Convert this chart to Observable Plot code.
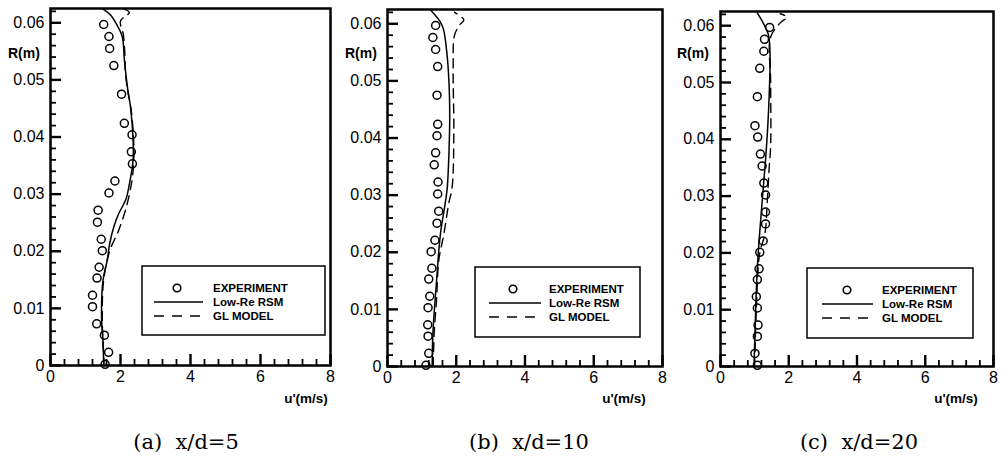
<!DOCTYPE html>
<html><head><meta charset="utf-8">
<script src="https://cdn.jsdelivr.net/npm/d3@7"></script>
<script src="https://cdn.jsdelivr.net/npm/@observablehq/plot@0.6"></script>
<style>
body{margin:0;background:#fff;}
#root{position:relative;width:1003px;height:462px;overflow:hidden;font-family:"Liberation Sans",Arial,sans-serif;}
.panel{position:absolute;top:0;}
#overlay{position:absolute;left:0;top:0;pointer-events:none;}
</style></head><body><div id="root"></div>
<script>
// ---- data ----
const xMajor = [0, 2, 4, 6, 8];
const xMinor = [0.4, 0.8, 1.2, 1.6, 2.4, 2.8, 3.2, 3.6, 4.4, 4.8, 5.2, 5.6, 6.4, 6.8, 7.2, 7.6];
const yMajor = [0, 0.01, 0.02, 0.03, 0.04, 0.05, 0.06];
const yMinor = [0.002,0.004,0.006,0.008,0.012,0.014,0.016,0.018,0.022,0.024,0.026,0.028,0.032,0.034,0.036,0.038,0.042,0.044,0.046,0.048,0.052,0.054,0.056,0.058,0.062];

const expR = [0.0597,0.0576,0.0555,0.0525,0.0475,0.0424,0.0404,0.0374,0.0353,0.0323,0.0302,0.0272,0.0251,0.0221,0.0201,0.0172,0.0153,0.0123,0.0103,0.0073,0.0053,0.0023,0.0002];
const expU_a = [1.52,1.67,1.69,1.81,2.03,2.11,2.33,2.31,2.34,1.84,1.67,1.36,1.34,1.45,1.48,1.39,1.33,1.20,1.20,1.32,1.54,1.66,1.56];
const expU_b = [1.40,1.32,1.40,1.46,1.44,1.46,1.44,1.40,1.36,1.47,1.46,1.49,1.44,1.38,1.27,1.29,1.20,1.23,1.18,1.17,1.18,1.20,1.12];
const expU_c = [1.44,1.29,1.27,1.15,1.08,1.01,1.09,1.17,1.22,1.27,1.32,1.32,1.32,1.25,1.15,1.13,1.08,1.05,1.08,1.10,1.08,1.01,1.08];

const rsmR_a = [0,0.0044,0.0079,0.0149,0.0184,0.0213,0.0243,0.0266,0.029,0.0313,0.036,0.0395,0.045,0.0491,0.0536,0.0576,0.0596,0.0614,0.0625];
const rsmU_a = [1.52,1.50,1.46,1.50,1.62,1.69,1.81,1.95,2.15,2.24,2.36,2.36,2.29,2.19,2.11,2.05,1.90,1.71,1.48];
const glR_a = [0,0.008,0.015,0.0202,0.0237,0.0278,0.0325,0.036,0.040,0.045,0.0482,0.0515,0.055,0.058,0.0603,0.0618,0.0624];
const glU_a = [1.53,1.48,1.52,1.70,1.95,2.17,2.33,2.38,2.37,2.30,2.20,2.14,2.12,2.08,2.00,2.25,2.10];

const rsmR_b = [0,0.0057,0.0144,0.0232,0.029,0.0314,0.0378,0.0436,0.0495,0.0553,0.0597,0.0624];
const rsmU_b = [1.30,1.32,1.42,1.54,1.69,1.74,1.79,1.81,1.79,1.72,1.59,1.25];
const glR_b = [0,0.006,0.012,0.0185,0.0232,0.0285,0.0314,0.0407,0.0524,0.058,0.0598,0.0607,0.0620];
const glU_b = [1.33,1.36,1.43,1.49,1.64,1.78,1.88,1.93,1.91,1.95,2.10,2.22,1.95];

const rsmR_c = [0,0.0057,0.0175,0.029,0.038,0.0467,0.0555,0.0585,0.0605,0.0622];
const rsmU_c = [0.98,1.01,1.08,1.22,1.34,1.42,1.45,1.40,1.25,1.08];
const glR_c = [0,0.01,0.02,0.0233,0.029,0.0344,0.039,0.05,0.058,0.0605,0.0615,0.0621];
const glU_c = [1.00,1.05,1.15,1.30,1.37,1.42,1.47,1.47,1.47,1.75,1.95,1.75];

const captions = ["(a)  x/d=5", "(b)  x/d=10", "(c)  x/d=20"];
const legendLabels = ["EXPERIMENT", "Low-Re RSM", "GL MODEL"];

// ---- layout ----
const panels = [
  {left: 0,   width: 340, mt: 8,  bottom: 365, expU: expU_a, rsmU: rsmU_a, rsmR: rsmR_a, glU: glU_a, glR: glR_a,
   legend: {x: 142, y: 266, w: 183, h: 69, cx: 35, lx1: 12, lx2: 61, tx: 71}, rlab: 8, ulab: 306, cap: 186},
  {left: 337, width: 335, mt: 9,  bottom: 366, expU: expU_b, rsmU: rsmU_b, rsmR: rsmR_b, glU: glU_b, glR: glR_b,
   legend: {x: 475, y: 267, w: 165, h: 70, cx: 38, lx1: 14, lx2: 66, tx: 74}, rlab: 345, ulab: 624, cap: 529},
  {left: 670, width: 333, mt: 11, bottom: 366, expU: expU_c, rsmU: rsmU_c, rsmR: rsmR_c, glU: glU_c, glR: glR_c,
   legend: {x: 807, y: 268, w: 166, h: 70, cx: 40, lx1: 15, lx2: 66, tx: 75}, rlab: 677, ulab: 956, cap: 859}
];

const H = 410;
const ML = 50, MR = 10;
const XD = [0, 8], YD = [0, 0.0625];
const root = document.getElementById("root");
const yfmt = d => d === 0 ? "0" : d.toFixed(2);

panels.forEach(p => {
  const exp = expR.map((r, i) => ({u: p.expU[i], r}));
  const rsm = p.rsmR.map((r, i) => ({u: p.rsmU[i], r}));
  const gl = p.glR.map((r, i) => ({u: p.glU[i], r}));
  const fw = p.width - ML - MR;       // frame width in px
  const fh = p.bottom - p.mt;         // frame height in px
  // tick lengths (px) converted to data units so the ticks point into the frame
  const yLen = px => YD[0] + px / fh * (YD[1] - YD[0]);
  const xLen = px => XD[0] + px / fw * (XD[1] - XD[0]);
  const chart = Plot.plot({
    width: p.width, height: H,
    marginLeft: ML, marginRight: MR, marginTop: p.mt, marginBottom: H - p.bottom,
    x: {domain: XD, label: null},
    y: {domain: YD, label: null},
    style: {fontFamily: "'Liberation Sans', Arial, sans-serif", fontSize: "16px", background: "transparent", color: "black", overflow: "visible"},
    marks: [
      Plot.ruleX(xMinor, {x: d => d, y1: YD[0], y2: yLen(6), stroke: "black", strokeWidth: 1.8}),
      Plot.ruleX(xMajor, {x: d => d, y1: YD[0], y2: yLen(11), stroke: "black", strokeWidth: 2.4}),
      Plot.ruleY(yMinor, {y: d => d, x1: XD[0], x2: xLen(6), stroke: "black", strokeWidth: 1.8}),
      Plot.ruleY(yMajor, {y: d => d, x1: XD[0], x2: xLen(11), stroke: "black", strokeWidth: 2.4}),
      Plot.axisX({ticks: xMajor, tickSize: 0, tickPadding: 5, tickFormat: d => String(d), label: null}),
      Plot.axisY({ticks: yMajor, tickSize: 0, tickPadding: 6, tickFormat: yfmt, label: null}),
      Plot.line(rsm, {x: "u", y: "r", curve: "catmull-rom", stroke: "black", strokeWidth: 1.5, clip: true}),
      Plot.line(gl, {x: "u", y: "r", curve: "catmull-rom", stroke: "black", strokeWidth: 1.4, strokeDasharray: "9,6", clip: true}),
      Plot.dot(exp, {x: "u", y: "r", r: 4, stroke: "black", strokeWidth: 1.5, fill: "none"}),
      Plot.frame({stroke: "black", strokeWidth: 2.5})
    ]
  });
  chart.classList.add("panel");
  chart.style.left = p.left + "px";
  root.appendChild(chart);
});

// ---- overlay: axis titles, legends, captions ----
const ov = d3.select(root).append("svg").attr("id", "overlay").attr("width", 1003).attr("height", 462)
  .style("font-family", "'Liberation Sans', Arial, sans-serif");

panels.forEach((p, k) => {
  ov.append("text").attr("x", p.rlab).attr("y", 58).attr("font-weight", "bold").attr("font-size", 14).text("R(m)");
  ov.append("text").attr("x", p.ulab).attr("y", 403).attr("text-anchor", "middle").attr("font-weight", "bold").attr("font-size", 13.5).text("u'(m/s)");
  ov.append("text").attr("x", p.cap).attr("y", 449).attr("text-anchor", "middle")
    .attr("font-family", "'DejaVu Serif', serif").attr("font-size", 21).style("white-space", "pre").text(captions[k]);

  const L = p.legend;
  const g = ov.append("g").attr("transform", `translate(${L.x},${L.y})`);
  g.append("rect").attr("width", L.w).attr("height", L.h).attr("fill", "white").attr("stroke", "black").attr("stroke-width", 1.5);
  const rows = [22, 36, 50];
  g.append("circle").attr("cx", L.cx).attr("cy", rows[0]).attr("r", 3.8).attr("fill", "none").attr("stroke", "black").attr("stroke-width", 1.6);
  g.append("line").attr("x1", L.lx1).attr("x2", L.lx2).attr("y1", rows[1]).attr("y2", rows[1]).attr("stroke", "black").attr("stroke-width", 1.6);
  g.append("line").attr("x1", L.lx1).attr("x2", L.lx2).attr("y1", rows[2]).attr("y2", rows[2]).attr("stroke", "black").attr("stroke-width", 1.6).attr("stroke-dasharray", "10,8");
  legendLabels.forEach((t, i) => {
    g.append("text").attr("x", L.tx).attr("y", rows[i]).attr("dy", "0.36em").attr("font-weight", "bold").attr("font-size", 11.5).text(t);
  });
});
</script></body></html>
